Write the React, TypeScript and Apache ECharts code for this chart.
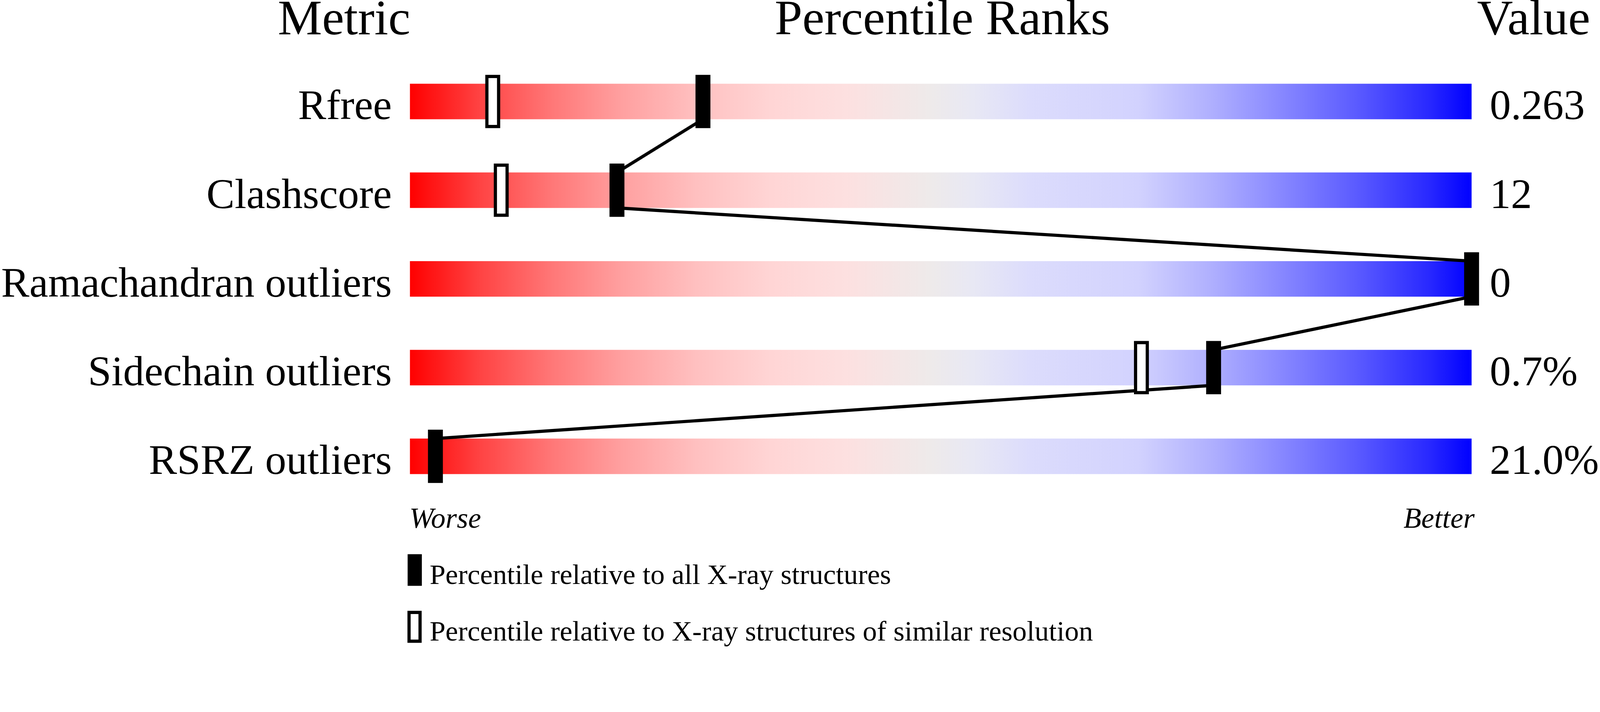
import { useEffect, useRef } from "react";
import * as echarts from "echarts";

// rows, top to bottom
const metrics = ["Rfree", "Clashscore", "Ramachandran outliers", "Sidechain outliers", "RSRZ outliers"];
const valueLabels = ["0.263", "12", "0", "0.7%", "21.0%"];
// percentile relative to all X-ray structures
const allPercentiles = [27.6, 19.5, 100, 75.7, 2.4];
// percentile relative to structures of similar resolution (null = not shown)
const similarPercentiles: (number | null)[] = [7.8, 8.6, null, 68.9, null];
const scaleMax = 100;

const SERIF = '"Liberation Serif", "Times New Roman", serif';

const gradientStops = [
  { offset: 0, color: "#ff0000" },
  { offset: 0.067, color: "#ff4444" },
  { offset: 0.135, color: "#ff7878" },
  { offset: 0.2, color: "#ffa0a0" },
  { offset: 0.27, color: "#ffc0c0" },
  { offset: 0.34, color: "#ffd5d5" },
  { offset: 0.41, color: "#fde0e0" },
  { offset: 0.49, color: "#eeeaea" },
  { offset: 0.53, color: "#e8e8f4" },
  { offset: 0.584, color: "#dcdcfc" },
  { offset: 0.686, color: "#d2d2fe" },
  { offset: 0.754, color: "#b0b0fe" },
  { offset: 0.82, color: "#8888ff" },
  { offset: 0.89, color: "#5c5cff" },
  { offset: 0.958, color: "#2a2aff" },
  { offset: 1, color: "#0000ff" },
];

// layout is worked out for a 4506px wide picture; scale to the real viewport
const DESIGN_W = 4506;
const DESIGN_H = 1824;

export default function App() {
  const ref = useRef<HTMLDivElement>(null);
  const S = typeof window !== "undefined" ? window.innerWidth / DESIGN_W : 1;
  const k = (v: number) => v * S;

  useEffect(() => {
    document.body.style.margin = "0";
    document.body.style.overflow = "hidden";
    if (!ref.current) return;
    const chart = echarts.init(ref.current, null, { renderer: "svg" });

    const BAR_H = k(100);
    const MARK_W = k(42);
    const MARK_H = k(150);
    const HOLLOW_LW = k(9);
    const LABEL_SIZE = 119;
    // svg text uses dominant-baseline central; shift so the baseline lands where wanted
    const ASC = 0.3375;
    const central = (baseline: number, size: number) => k(baseline - size * ASC);

    const filledData = allPercentiles.map((p, i) => [p, i]);
    const hollowData = similarPercentiles
      .map((p, i) => (p == null ? null : [p, i]))
      .filter((d) => d != null);
    const linkData = allPercentiles.slice(0, -1).map((p, i) => [p, i, allPercentiles[i + 1], i + 1]);

    // labels sit with their baseline on the bar's lower edge
    const axisLabel = {
      interval: 0,
      fontFamily: SERIF,
      fontSize: k(LABEL_SIZE),
      color: "#000",
      margin: k(51),
      verticalAlign: "top",
      lineHeight: k(2 * (50 - LABEL_SIZE * ASC)),
    };

    const text = (str: string, x: number, baseline: number, size: number, align: string, italic = false) => ({
      type: "text",
      x: k(x),
      y: central(baseline, size),
      style: {
        text: str,
        fontFamily: SERIF,
        fontStyle: italic ? "italic" : "normal",
        fontSize: k(size),
        fill: "#000",
        align,
        verticalAlign: "middle",
      },
    });

    chart.setOption({
      animation: false,
      backgroundColor: "#fff",
      grid: { left: k(1153), right: k(353), top: k(161), height: k(1250) },
      xAxis: { type: "value", min: 0, max: scaleMax, show: false },
      yAxis: [
        {
          type: "category",
          data: metrics,
          inverse: true,
          axisLine: { show: false },
          axisTick: { show: false },
          splitLine: { show: false },
          axisLabel: { ...axisLabel, align: "right" },
        },
        {
          type: "category",
          data: valueLabels,
          inverse: true,
          position: "right",
          axisLine: { show: false },
          axisTick: { show: false },
          splitLine: { show: false },
          axisLabel: { ...axisLabel, align: "left" },
        },
      ],
      series: [
        {
          type: "bar",
          yAxisIndex: 0,
          barWidth: BAR_H,
          silent: true,
          z: 1,
          itemStyle: { color: new echarts.graphic.LinearGradient(0, 0, 1, 0, gradientStops) },
          data: metrics.map(() => scaleMax),
        },
        {
          type: "custom",
          name: "links",
          yAxisIndex: 0,
          z: 2,
          encode: { x: [0, 2], y: [1, 3] },
          data: linkData,
          renderItem: (_p: any, api: any) => {
            const a = api.coord([api.value(0), api.value(1)]);
            const b = api.coord([api.value(2), api.value(3)]);
            return {
              type: "line",
              shape: { x1: a[0], y1: a[1] + BAR_H / 2, x2: b[0], y2: b[1] - BAR_H / 2 },
              style: { stroke: "#000", lineWidth: k(9) },
            };
          },
        },
        {
          type: "custom",
          name: "similar",
          yAxisIndex: 0,
          z: 3,
          encode: { x: 0, y: 1 },
          data: hollowData,
          renderItem: (_p: any, api: any) => {
            const [x, y] = api.coord([api.value(0), api.value(1)]);
            const w = MARK_W - HOLLOW_LW;
            const h = MARK_H - HOLLOW_LW;
            return {
              type: "rect",
              shape: { x: x - w / 2, y: y - h / 2, width: w, height: h },
              style: { fill: "#fff", stroke: "#000", lineWidth: HOLLOW_LW },
            };
          },
        },
        {
          type: "custom",
          name: "all",
          yAxisIndex: 0,
          z: 4,
          encode: { x: 0, y: 1 },
          data: filledData,
          renderItem: (_p: any, api: any) => {
            const [x, y] = api.coord([api.value(0), api.value(1)]);
            return {
              type: "rect",
              shape: { x: x - MARK_W / 2, y: y - MARK_H / 2, width: MARK_W, height: MARK_H },
              style: { fill: "#000" },
            };
          },
        },
      ],
      graphic: [
        text("Metric", 969, 97, 140, "center"),
        text("Percentile Ranks", 2654, 97, 140, "center"),
        text("Value", 4319, 97, 140, "center"),
        text("Worse", 1153, 1487, 82, "left", true),
        text("Better", 4153, 1487, 82, "right", true),
        // legend
        { type: "rect", shape: { x: k(1148), y: k(1562), width: k(40), height: k(89) }, style: { fill: "#000" } },
        text("Percentile relative to all X-ray structures", 1210, 1646, 80, "left"),
        { type: "rect", shape: { x: k(1152), y: k(1726), width: k(31), height: k(81) }, style: { fill: "#fff", stroke: "#000", lineWidth: k(9) } },
        text("Percentile relative to X-ray structures of similar resolution", 1210, 1805, 80, "left"),
      ],
    });

    return () => chart.dispose();
  }, []);

  return <div ref={ref} style={{ width: DESIGN_W * S, height: DESIGN_H * S }} />;
}
